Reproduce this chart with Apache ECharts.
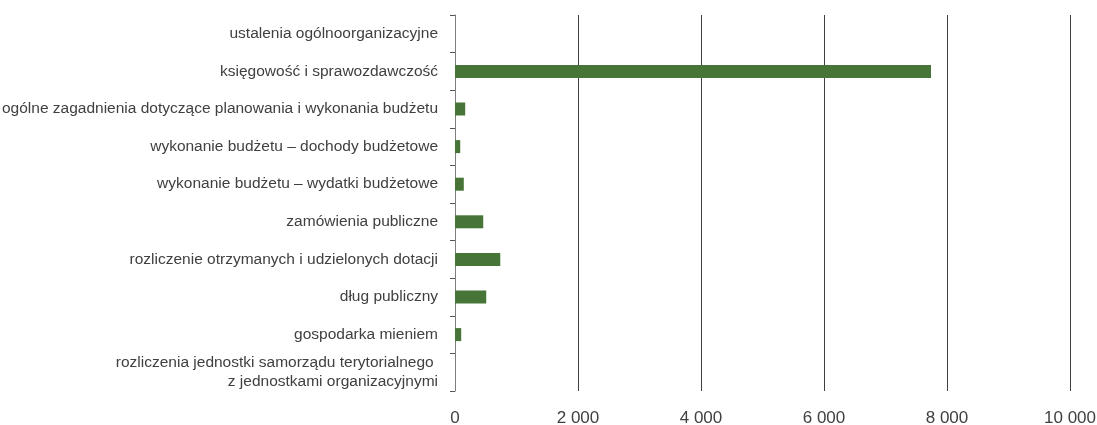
<!DOCTYPE html>
<html>
<head>
<meta charset="utf-8">
<script src="https://cdn.jsdelivr.net/npm/echarts@6/dist/echarts.min.js"></script>
<style>
html,body{margin:0;padding:0;background:#fff;}
#chart{width:1097px;height:425px;}
</style>
</head>
<body>
<div id="chart"></div>
<script>
const categories = [
  'ustalenia ogólnoorganizacyjne',
  'księgowość i sprawozdawczość',
  'ogólne zagadnienia dotyczące planowania i wykonania budżetu',
  'wykonanie budżetu – dochody budżetowe',
  'wykonanie budżetu – wydatki budżetowe',
  'zamówienia publiczne',
  'rozliczenie otrzymanych i udzielonych dotacji',
  'dług publiczny',
  'gospodarka mieniem',
  'rozliczenia jednostki samorządu terytorialnego \nz jednostkami organizacyjnymi'
];
const values = [0, 7740, 166, 85, 143, 459, 736, 508, 101, 0];
const xMin = 0;
const xMax = 10000;
const xInterval = 2000;

const chart = echarts.init(document.getElementById('chart'));
chart.setOption({
  animation: false,
  grid: {left: 455, right: 27, top: 15, bottom: 34, containLabel: false, outerBoundsMode: 'none'},
  xAxis: {
    type: 'value',
    min: xMin, max: xMax, interval: xInterval,
    axisLine: {show: false},
    axisTick: {show: false},
    splitLine: {show: true, lineStyle: {color: ['rgba(0,0,0,0)', '#404040', '#404040', '#404040', '#404040', '#404040'], width: 1}},
    axisLabel: {
      margin: 19,
      color: '#404040',
      fontFamily: '"Liberation Sans", Arial, sans-serif',
      fontSize: 17,
      formatter: v => String(v).replace(/\B(?=(\d{3})+(?!\d))/g, ' ')
    }
  },
  yAxis: {
    type: 'category',
    data: categories,
    inverse: true,
    axisLine: {show: true, lineStyle: {color: '#7f7f7f', width: 1}},
    axisTick: {show: true, length: 5, lineStyle: {color: '#555'}},
    axisLabel: {
      margin: 17,
      color: '#404040',
      fontFamily: '"Liberation Sans", Arial, sans-serif',
      fontSize: 15.5,
      lineHeight: 19
    }
  },
  series: [{
    type: 'bar',
    data: values,
    barWidth: 13,
    itemStyle: {color: '#477538'}
  }]
});
</script>
</body>
</html>
